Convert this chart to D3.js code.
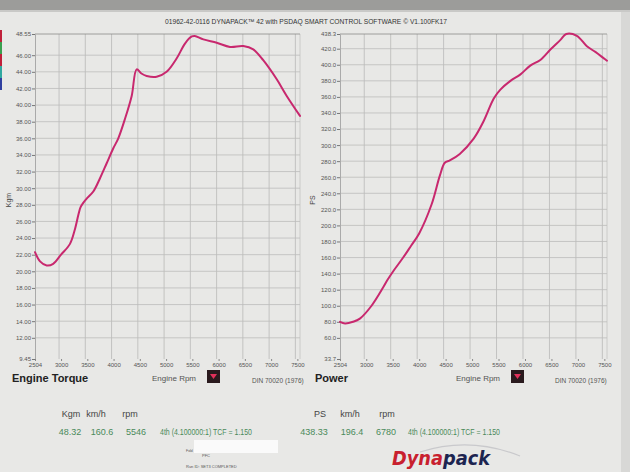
<!DOCTYPE html>
<html><head><meta charset="utf-8">
<script src="https://cdn.jsdelivr.net/npm/d3@7"></script>
<style>
html,body{margin:0;padding:0;background:#e9e9e7;}
svg{display:block;font-family:"Liberation Sans",Arial,sans-serif;}
</style></head>
<body>
<svg id="c" width="630" height="472"></svg>
<script>
// ---- data ----
const torqueRpm = [2504,2600,2727,2850,3000,3170,3266,3330,3370,3430,3488,3614,3742,3869,3995,4090,4218,4345,4440,4530,4630,4820,5010,5200,5360,5490,5546,5710,5964,6217,6470,6660,6850,7107,7297,7550];
const torqueKgm = [22.3,21.2,20.7,20.9,22.0,23.3,25.1,26.8,27.7,28.3,28.75,29.6,31.2,33.0,34.8,36.0,38.35,41.1,44.3,43.8,43.5,43.4,44.0,45.6,47.4,48.25,48.32,47.9,47.5,47.0,47.1,46.7,45.4,43.1,41.1,38.7];

const powerRpm = [2504,2600,2750,2880,3100,3321,3400,3510,3698,3850,4000,4234,4391,4485,4580,4768,5030,5220,5410,5535,5725,5915,6100,6290,6480,6670,6780,6980,7170,7330,7490,7550];
const powerPS  = [80,78,80,84,100,123,132,143,160,175,190,226,262,278,281,289,308,330,358,369,380,388,399,406,419,431,438.3,436,423,416,408,405];

const rpmTicks = [2504,3000,3500,4000,4500,5000,5500,6000,6500,7000,7500];
const torqueTicks = [9.45,12,14,16,18,20,22,24,26,28,30,32,34,36,38,40,42,44,46,48.55];
const powerTicks = [33.7,60,80,100,120,140,160,180,200,220,240,260,280,300,320,340,360,380,400,420,438.3];

const titleText = "01962-42-0116 DYNAPACK\u2122 42 with PSDAQ SMART CONTROL SOFTWARE \u00A9 V1.100FK17";
const statHeadL = ["Kgm","km/h","rpm"], statValL = ["48.32","160.6","5546"];
const statHeadR = ["PS","km/h","rpm"], statValR = ["438.33","196.4","6780"];
const gearText = "4th (4.100000:1) TCF = 1.150";

// ---- drawing ----
const svg = d3.select("#c");
const W=630,H=472;
svg.append("rect").attr("width",W).attr("height",H).attr("fill","#e8e8e6");
// top screen bar
svg.append("rect").attr("x",0).attr("y",0).attr("width",W).attr("height",10).attr("fill","#9c9c9a");
svg.append("rect").attr("x",0).attr("y",10).attr("width",W).attr("height",2).attr("fill","#c9c9c7");
// right screen edge
svg.append("rect").attr("x",621).attr("y",12).attr("width",9).attr("height",460).attr("fill","#d8d8d6");
// left colour strip
const strip=["#c0203a","#3aa050","#c0203a","#30a8a0","#3040a0"];
strip.forEach((c,i)=>svg.append("rect").attr("x",0).attr("y",30+i*12).attr("width",2).attr("height",12).attr("fill",c));

svg.append("text").attr("x",165).attr("y",24).attr("font-size",7).attr("fill","#333")
  .attr("textLength",282).attr("lengthAdjust","spacingAndGlyphs").text(titleText);

function panel(x0,x1,yDomain,ticks,fmt,xs,ys,axisLabel,axisLabelX){
  const x=d3.scaleLinear().domain([2504,7550]).range([x0,x1]);
  const y=d3.scaleLinear().domain(yDomain).range([359,34]);
  const g=svg.append("g");
  // grid
  g.selectAll(".vg").data(rpmTicks.slice(1)).join("line")
    .attr("x1",d=>x(d)-2).attr("x2",d=>x(d)-2).attr("y1",34).attr("y2",359)
    .attr("stroke","#b9b9b7").attr("stroke-width",0.8);
  g.append("line").attr("x1",x1).attr("x2",x1).attr("y1",34).attr("y2",359).attr("stroke","#c4c4c2").attr("stroke-width",0.8);
  g.selectAll(".hg").data(ticks.slice(1)).join("line")
    .attr("x1",x0).attr("x2",x1).attr("y1",d=>y(d)).attr("y2",d=>y(d))
    .attr("stroke",(d,i)=>i===ticks.length-2?"#8a8a88":"#bdbdbb").attr("stroke-width",0.8);
  // axes
  const ya=d3.axisLeft(y).tickValues(ticks).tickFormat(fmt).tickSize(3).tickPadding(1);
  const yg=g.append("g").attr("transform",`translate(${x0},0)`).call(ya);
  yg.select(".domain").attr("stroke","#aaa");
  yg.selectAll("line").attr("stroke","#777");
  yg.selectAll("text").attr("font-size",6).attr("fill","#555");
  const xa=d3.axisBottom(x).tickValues(rpmTicks).tickFormat(d3.format("d")).tickSize(2).tickPadding(2);
  const xg=g.append("g").attr("transform",`translate(0,359)`).call(xa);
  xg.select(".domain").remove();
  xg.selectAll("line").attr("stroke","#888");
  xg.selectAll("text").attr("font-size",6).attr("fill","#555");
  g.append("text").attr("transform",`translate(${axisLabelX},200) rotate(-90)`).attr("text-anchor","middle")
    .attr("font-size",7).attr("fill","#444").text(axisLabel);
  // curve
  const line=d3.line().x((d,i)=>x(xs[i])).y(d=>y(d)).curve(d3.curveCatmullRom.alpha(0.5));
  g.append("path").datum(ys).attr("d",line).attr("fill","none").attr("stroke","#c8286e").attr("stroke-width",2)
    .attr("stroke-linejoin","round").attr("stroke-linecap","round");
  return x;
}
panel(35,300,[9.45,48.55],torqueTicks,d3.format(".2f"),torqueRpm,torqueKgm,"Kgm",11);
panel(340,607,[33.7,438.3],powerTicks,d3.format(".1f"),powerRpm,powerPS,"PS",315);

// bottom captions
function caption(x,title,rpmX,dinX){
  svg.append("text").attr("x",x).attr("y",382).attr("font-size",11).attr("font-weight","bold").attr("fill","#222").text(title);
  svg.append("text").attr("x",rpmX).attr("y",381).attr("font-size",8).attr("fill","#555").text("Engine Rpm");
  svg.append("rect").attr("x",rpmX+55).attr("y",370).attr("width",13).attr("height",13).attr("fill","#2a1a1e");
  svg.append("path").attr("d",`M${rpmX+58},${374} L${rpmX+65},${374} L${rpmX+61.5},${379} Z`).attr("fill","#e0305a");
  svg.append("text").attr("x",dinX).attr("y",383).attr("font-size",6.5).attr("fill","#555").text("DIN 70020 (1976)");
}
caption(12,"Engine Torque",152,252);
caption(315,"Power",456,555);

// stats
const headXL=[71,96,130], valXL=[70,102,136];
const headXR=[320,350,387], valXR=[314,352,386];
statHeadL.forEach((t,i)=>svg.append("text").attr("x",headXL[i]).attr("y",417).attr("text-anchor","middle").attr("font-size",9).attr("fill","#444").text(t));
statValL.forEach((t,i)=>svg.append("text").attr("x",valXL[i]).attr("y",435).attr("text-anchor","middle").attr("font-size",9).attr("fill","#4a8a5a").text(t));
statHeadR.forEach((t,i)=>svg.append("text").attr("x",headXR[i]).attr("y",417).attr("text-anchor","middle").attr("font-size",9).attr("fill","#444").text(t));
statValR.forEach((t,i)=>svg.append("text").attr("x",valXR[i]).attr("y",435).attr("text-anchor","middle").attr("font-size",9).attr("fill","#4a8a5a").text(t));
svg.append("text").attr("x",160).attr("y",435).attr("font-size",8.5).attr("fill","#4a8a5a")
  .attr("textLength",92).attr("lengthAdjust","spacingAndGlyphs").text(gearText);
svg.append("text").attr("x",408).attr("y",435).attr("font-size",8.5).attr("fill","#4a8a5a")
  .attr("textLength",92).attr("lengthAdjust","spacingAndGlyphs").text(gearText);

// footer
svg.append("rect").attr("x",194).attr("y",440).attr("width",84).attr("height",13).attr("fill","#fafafa");
svg.append("text").attr("x",186).attr("y",452).attr("font-size",3.5).attr("fill","#555").text("Fold");
svg.append("text").attr("x",202).attr("y",457).attr("font-size",4).attr("fill","#555").text("PFC");
svg.append("text").attr("x",186).attr("y",468).attr("font-size",4).attr("fill","#555").text("Run ID: SET3 COMPLETED");
// logo
svg.append("path").attr("d","M420,452 Q470,436 520,456").attr("fill","none").attr("stroke","#c9c9cc").attr("stroke-width",1.2);
const logo=svg.append("text").attr("x",392).attr("y",465).attr("font-size",19).attr("font-weight","bold").attr("font-style","italic")
  .attr("font-family","'DejaVu Sans',sans-serif").attr("textLength",98).attr("lengthAdjust","spacingAndGlyphs");
logo.append("tspan").attr("fill","#c8202e").text("Dyna");
logo.append("tspan").attr("fill","#1c2450").text("pack");
</script>
</body></html>
